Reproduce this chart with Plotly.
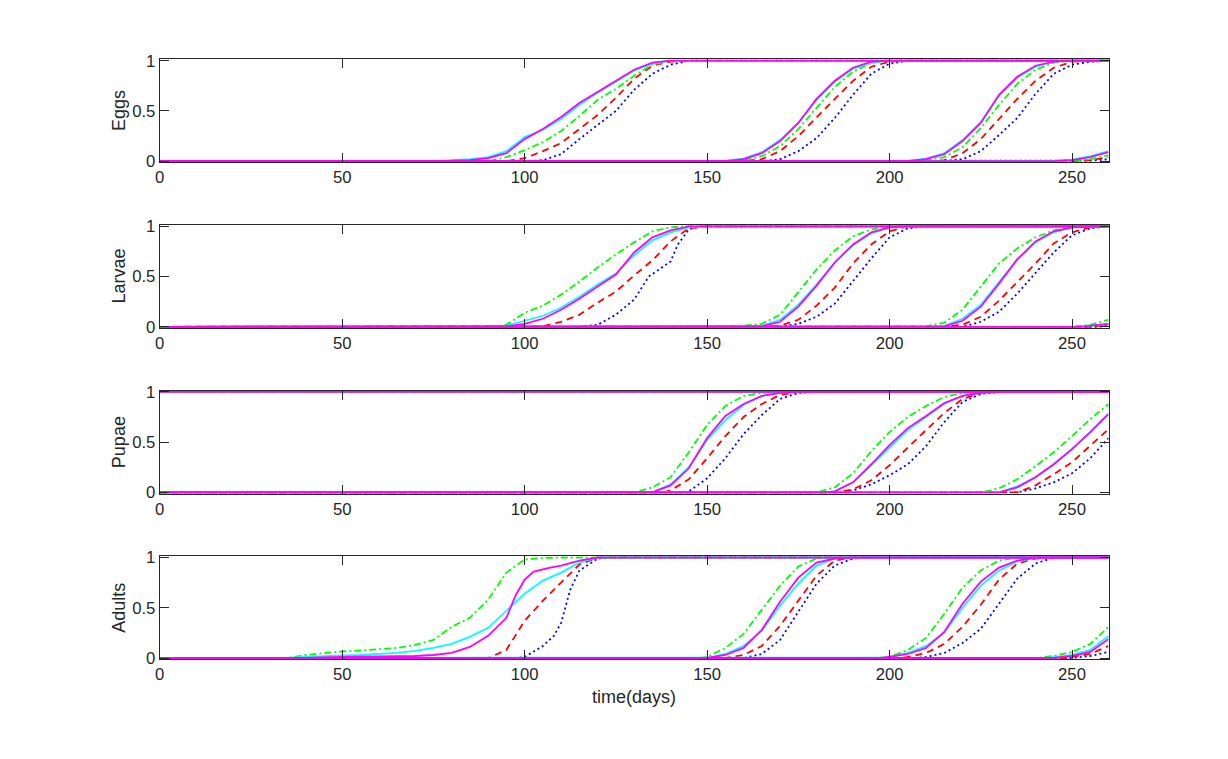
import plotly.graph_objects as go

# ---------------- data (day, fraction) ----------------
T_MAX = 260
x_ticks = [0, 50, 100, 150, 200, 250]
y_ticks = [0, 0.5, 1]
y_tick_text = ["0", "0.5", "1"]
stage_names = ["Eggs", "Larvae", "Pupae", "Adults"]
x_title = "time(days)"

eggs_blue = [
    [(100, 0), (105, 0.01), (110, 0.07), (115, 0.22), (120, 0.36), (125, 0.50), (130, 0.71), (135, 0.87), (140, 0.96), (145, 1)],
    [(165, 0), (170, 0.02), (175, 0.10), (180, 0.23), (185, 0.43), (190, 0.66), (195, 0.87), (200, 0.97), (205, 1)],
    [(215, 0), (220, 0.02), (225, 0.10), (230, 0.26), (235, 0.43), (240, 0.67), (245, 0.87), (250, 0.96), (255, 0.99), (260, 1)],
    [(250, 0), (255, 0.005), (260, 0.02)],
]
eggs_red = [
    [(95, 0), (100, 0.03), (105, 0.10), (110, 0.18), (115, 0.32), (120, 0.46), (125, 0.63), (130, 0.82), (135, 0.95), (140, 0.99), (145, 1)],
    [(160, 0), (165, 0.02), (170, 0.10), (175, 0.25), (180, 0.44), (185, 0.62), (190, 0.80), (195, 0.94), (200, 0.99), (205, 1)],
    [(210, 0), (215, 0.01), (220, 0.08), (225, 0.22), (230, 0.42), (235, 0.62), (240, 0.80), (245, 0.93), (250, 0.99), (255, 1)],
    [(250, 0), (255, 0.01), (260, 0.04)],
]
eggs_green = [
    [(90, 0), (95, 0.04), (100, 0.11), (105, 0.19), (110, 0.30), (115, 0.45), (120, 0.61), (125, 0.72), (130, 0.85), (135, 0.96), (140, 1)],
    [(155, 0), (160, 0.01), (165, 0.05), (170, 0.15), (175, 0.32), (180, 0.53), (185, 0.74), (190, 0.89), (195, 0.98), (200, 1)],
    [(205, 0), (210, 0.01), (215, 0.04), (220, 0.14), (225, 0.33), (230, 0.56), (235, 0.77), (240, 0.91), (245, 0.98), (250, 1)],
    [(250, 0), (255, 0.02), (260, 0.06)],
]
eggs_cyan = [
    [(75, 0), (80, 0.01), (85, 0.02), (90, 0.04), (95, 0.10), (100, 0.24), (105, 0.31), (110, 0.42), (115, 0.56), (120, 0.68), (125, 0.79), (130, 0.90), (135, 0.97), (140, 1)],
    [(152, 0), (155, 0.005), (160, 0.025), (165, 0.09), (170, 0.21), (175, 0.38), (180, 0.61), (185, 0.79), (190, 0.92), (195, 0.98), (200, 1)],
    [(202, 0), (205, 0.005), (210, 0.025), (215, 0.08), (220, 0.21), (225, 0.39), (230, 0.65), (235, 0.83), (240, 0.94), (245, 0.99), (250, 1)],
    [(243, 0), (250, 0.015), (255, 0.05), (260, 0.10)],
]
eggs_magenta = [
    [(75, 0), (80, 0.005), (85, 0.01), (90, 0.03), (95, 0.08), (100, 0.22), (105, 0.32), (110, 0.44), (115, 0.58), (120, 0.69), (125, 0.80), (130, 0.91), (135, 0.98), (140, 1)],
    [(155, 0), (160, 0.02), (165, 0.08), (170, 0.20), (175, 0.38), (180, 0.62), (185, 0.80), (190, 0.93), (195, 0.99), (200, 1)],
    [(205, 0), (210, 0.02), (215, 0.07), (220, 0.20), (225, 0.38), (230, 0.66), (235, 0.84), (240, 0.95), (245, 0.99), (250, 1)],
    [(245, 0), (250, 0.01), (255, 0.04), (260, 0.09)],
]

larvae_blue = [
    [(115, 0), (120, 0.02), (125, 0.12), (130, 0.27), (134, 0.50), (136, 0.55), (140, 0.65), (142, 0.82), (145, 0.97), (148, 1)],
    [(170, 0), (175, 0.03), (180, 0.10), (185, 0.23), (190, 0.46), (195, 0.68), (200, 0.89), (205, 0.98), (210, 1)],
    [(220, 0), (225, 0.05), (230, 0.15), (235, 0.33), (240, 0.54), (245, 0.74), (250, 0.91), (255, 0.98), (260, 1)],
    [(257, 0), (260, 0.01)],
]
larvae_red = [
    [(100, 0), (105, 0.005), (110, 0.05), (115, 0.12), (120, 0.24), (125, 0.35), (130, 0.51), (135, 0.66), (140, 0.85), (145, 0.98), (150, 1)],
    [(165, 0), (170, 0.01), (175, 0.07), (180, 0.21), (185, 0.39), (190, 0.63), (195, 0.82), (200, 0.95), (205, 1)],
    [(215, 0), (220, 0.02), (225, 0.10), (230, 0.26), (235, 0.44), (240, 0.63), (245, 0.83), (250, 0.94), (255, 0.99), (260, 1)],
    [(255, 0), (260, 0.02)],
]
larvae_green = [
    [(90, 0), (95, 0.02), (100, 0.14), (105, 0.21), (110, 0.32), (115, 0.45), (120, 0.59), (125, 0.72), (130, 0.84), (135, 0.95), (140, 0.99), (145, 1)],
    [(155, 0), (160, 0.01), (165, 0.03), (170, 0.12), (175, 0.34), (180, 0.57), (185, 0.76), (190, 0.90), (195, 0.97), (200, 1)],
    [(205, 0), (210, 0.005), (215, 0.04), (220, 0.17), (225, 0.40), (230, 0.63), (235, 0.78), (240, 0.89), (245, 0.96), (250, 0.99), (255, 1)],
    [(250, 0), (255, 0.02), (260, 0.07)],
]
larvae_cyan = [
    [(90, 0), (95, 0.01), (100, 0.06), (105, 0.11), (110, 0.19), (115, 0.30), (120, 0.42), (125, 0.53), (130, 0.71), (135, 0.86), (140, 0.94), (145, 0.99), (150, 1)],
    [(160, 0), (165, 0.01), (170, 0.07), (175, 0.22), (180, 0.42), (185, 0.64), (190, 0.81), (195, 0.93), (200, 0.99), (205, 1)],
    [(210, 0), (215, 0.01), (220, 0.08), (225, 0.22), (230, 0.44), (235, 0.67), (240, 0.84), (245, 0.94), (250, 0.99), (255, 1)],
    [(252, 0), (260, 0.03)],
]
larvae_magenta = [
    [(90, 0), (95, 0.005), (100, 0.03), (105, 0.08), (110, 0.17), (115, 0.28), (120, 0.40), (125, 0.52), (130, 0.74), (135, 0.89), (140, 0.96), (145, 1)],
    [(160, 0), (165, 0.005), (170, 0.05), (175, 0.20), (180, 0.41), (185, 0.64), (190, 0.82), (195, 0.94), (200, 0.99), (205, 1)],
    [(210, 0), (215, 0.005), (220, 0.06), (225, 0.20), (230, 0.43), (235, 0.67), (240, 0.85), (245, 0.95), (250, 0.99), (255, 1)],
    [(252, 0), (260, 0.03)],
]

pupae_blue = [
    [(0, 1), (260, 1)],
    [(143, 0), (145, 0.01), (150, 0.14), (155, 0.34), (160, 0.58), (165, 0.77), (170, 0.93), (175, 0.99), (180, 1)],
    [(185, 0), (190, 0.02), (195, 0.08), (200, 0.17), (205, 0.28), (210, 0.46), (215, 0.70), (220, 0.90), (225, 0.98), (230, 1)],
    [(235, 0), (240, 0.04), (245, 0.10), (250, 0.19), (255, 0.34), (260, 0.54)],
]
pupae_red = [
    [(0, 1), (260, 1)],
    [(138, 0), (140, 0.02), (145, 0.13), (150, 0.34), (155, 0.56), (160, 0.75), (165, 0.88), (170, 0.97), (175, 1)],
    [(185, 0), (190, 0.03), (195, 0.12), (200, 0.27), (205, 0.45), (210, 0.62), (215, 0.79), (220, 0.93), (225, 0.99), (230, 1)],
    [(235, 0), (240, 0.07), (245, 0.18), (250, 0.30), (255, 0.47), (260, 0.63)],
]
pupae_green = [
    [(0, 1), (260, 1)],
    [(130, 0), (135, 0.05), (140, 0.15), (145, 0.40), (150, 0.67), (155, 0.86), (160, 0.96), (165, 0.99), (170, 1)],
    [(180, 0), (185, 0.05), (190, 0.19), (195, 0.41), (200, 0.60), (205, 0.75), (210, 0.86), (215, 0.95), (220, 0.99), (225, 1)],
    [(225, 0), (230, 0.04), (235, 0.13), (240, 0.26), (245, 0.40), (250, 0.56), (255, 0.73), (260, 0.88)],
]
pupae_cyan = [
    [(0, 1), (260, 1)],
    [(135, 0), (140, 0.08), (145, 0.25), (150, 0.52), (155, 0.72), (160, 0.87), (165, 0.96), (170, 0.99), (175, 1)],
    [(182, 0), (185, 0.01), (190, 0.10), (195, 0.27), (200, 0.45), (205, 0.62), (210, 0.75), (215, 0.88), (220, 0.96), (225, 0.99), (230, 1)],
    [(230, 0), (235, 0.06), (240, 0.15), (245, 0.28), (250, 0.43), (255, 0.60), (260, 0.78)],
]
pupae_magenta = [
    [(0, 1), (260, 1)],
    [(135, 0), (140, 0.07), (145, 0.24), (150, 0.54), (155, 0.76), (160, 0.88), (165, 0.96), (170, 0.99), (175, 1)],
    [(182, 0), (185, 0.01), (190, 0.10), (195, 0.28), (200, 0.47), (205, 0.64), (210, 0.76), (215, 0.89), (220, 0.96), (225, 0.99), (230, 1)],
    [(230, 0), (235, 0.05), (240, 0.15), (245, 0.28), (250, 0.43), (255, 0.60), (260, 0.78)],
]

adults_blue = [
    [(98, 0), (100, 0.01), (105, 0.12), (108, 0.22), (110, 0.35), (112.5, 0.68), (115, 0.87), (120, 0.99), (125, 1)],
    [(160, 0), (165, 0.04), (170, 0.18), (175, 0.46), (180, 0.74), (185, 0.92), (190, 0.99), (195, 1)],
    [(207, 0), (210, 0.01), (215, 0.05), (220, 0.15), (225, 0.29), (230, 0.54), (235, 0.79), (240, 0.94), (245, 1)],
    [(250, 0), (255, 0.02), (260, 0.06)],
]
adults_red = [
    [(90, 0), (95, 0.08), (100, 0.37), (105, 0.57), (110, 0.75), (115, 0.93), (120, 1)],
    [(155, 0), (160, 0.03), (165, 0.12), (170, 0.32), (175, 0.57), (180, 0.82), (185, 0.97), (190, 1)],
    [(203, 0), (205, 0.01), (210, 0.05), (215, 0.14), (220, 0.31), (225, 0.53), (230, 0.78), (235, 0.94), (240, 0.99), (245, 1)],
    [(248, 0), (255, 0.04), (260, 0.12)],
]
adults_green = [
    [(35, 0), (40, 0.03), (45, 0.05), (50, 0.065), (55, 0.075), (60, 0.085), (65, 0.10), (70, 0.13), (75, 0.18), (80, 0.31), (85, 0.40), (90, 0.58), (95, 0.85), (100, 0.98), (105, 0.995), (110, 1)],
    [(148, 0), (150, 0.01), (155, 0.10), (160, 0.24), (165, 0.48), (170, 0.72), (175, 0.91), (180, 0.99), (185, 1)],
    [(195, 0), (200, 0.01), (205, 0.08), (210, 0.20), (215, 0.44), (220, 0.70), (225, 0.87), (230, 0.97), (235, 1)],
    [(240, 0), (245, 0.02), (250, 0.06), (255, 0.14), (260, 0.31)],
]
adults_cyan = [
    [(35, 0), (40, 0.01), (45, 0.02), (50, 0.025), (55, 0.03), (60, 0.04), (65, 0.05), (70, 0.07), (75, 0.10), (80, 0.14), (85, 0.21), (90, 0.30), (95, 0.47), (100, 0.64), (105, 0.77), (110, 0.85), (115, 0.95), (120, 1)],
    [(150, 0), (155, 0.04), (160, 0.12), (165, 0.27), (170, 0.52), (175, 0.74), (180, 0.92), (185, 0.99), (190, 1)],
    [(198, 0), (200, 0.005), (205, 0.05), (210, 0.12), (215, 0.25), (220, 0.50), (225, 0.72), (230, 0.87), (235, 0.96), (240, 1)],
    [(243, 0), (250, 0.03), (255, 0.08), (260, 0.22)],
]
adults_magenta = [
    [(40, 0), (50, 0.01), (60, 0.015), (70, 0.02), (75, 0.03), (80, 0.05), (85, 0.11), (90, 0.22), (95, 0.40), (97.5, 0.62), (100, 0.78), (102.5, 0.86), (107, 0.90), (110, 0.92), (115, 0.97), (120, 1)],
    [(150, 0), (155, 0.03), (160, 0.10), (165, 0.28), (170, 0.56), (175, 0.80), (180, 0.95), (185, 0.99), (190, 1)],
    [(198, 0), (205, 0.04), (210, 0.10), (215, 0.26), (220, 0.54), (225, 0.76), (230, 0.90), (235, 0.97), (240, 1)],
    [(245, 0), (250, 0.02), (255, 0.06), (260, 0.19)],
]

stage_data = [
    [eggs_blue, eggs_red, eggs_green, eggs_cyan, eggs_magenta],
    [larvae_blue, larvae_red, larvae_green, larvae_cyan, larvae_magenta],
    [pupae_blue, pupae_red, pupae_green, pupae_cyan, pupae_magenta],
    [adults_blue, adults_red, adults_green, adults_cyan, adults_magenta],
]

# ---------------- styling ----------------
series_styles = [
    dict(color="#0000FF", dash="2px,3px"),          # blue dotted
    dict(color="#FF0000", dash="7px,5px"),          # red dashed
    dict(color="#00FF00", dash="7px,3px,2px,3px"),  # green dash-dot
    dict(color="#00FFFF", dash="solid"),            # cyan solid
    dict(color="#FF00FF", dash="solid"),            # magenta solid
]
LINE_W = 1.8
AX_COLOR = "#262626"
FONT = "Liberation Sans, Arial, Helvetica, sans-serif"

W, H = 1228, 759
x_left_px, x_right_px = 159.7, 1108.5
top_px = [60.7, 226.3, 391.9, 557.5]
ax_h_px = 100.5
pad = 0.012

fig = go.Figure()
layout = dict(
    width=W, height=H, autosize=False,
    margin=dict(l=0, r=0, t=0, b=0, pad=0, autoexpand=False),
    paper_bgcolor="white", plot_bgcolor="white", showlegend=False,
    font=dict(family=FONT, color=AX_COLOR, size=17),
)
annotations = []

for k, (name, series) in enumerate(zip(stage_names, stage_data)):
    idx = "" if k == 0 else str(k + 1)
    xa, ya = "x" + idx, "y" + idx
    for style, gens in zip(series_styles, series):
        for gen in gens:
            xs = [p[0] for p in gen]
            ys = [p[1] for p in gen]
            if xs[0] > 0:
                xs.insert(0, 0)
                ys.insert(0, 0)
            if xs[-1] < T_MAX and ys[-1] >= 1:
                xs.append(T_MAX)
                ys.append(1)
            fig.add_trace(go.Scatter(
                x=xs, y=ys, mode="lines", xaxis=xa, yaxis=ya,
                line=dict(color=style["color"], width=LINE_W, dash=style["dash"]),
                hoverinfo="skip",
            ))
    top = top_px[k] - pad * ax_h_px
    bot = top_px[k] + ax_h_px + pad * ax_h_px
    common = dict(showline=True, linecolor=AX_COLOR, linewidth=1, mirror="ticks",
                  ticks="inside", ticklen=9, tickcolor=AX_COLOR, tickwidth=1,
                  showgrid=False, zeroline=False, automargin=False,
                  tickfont=dict(family=FONT, size=16.7, color=AX_COLOR))
    layout["xaxis" + idx] = dict(
        domain=[x_left_px / W, x_right_px / W], range=[0, T_MAX],
        tickvals=x_ticks, anchor=ya, **common)
    layout["yaxis" + idx] = dict(
        domain=[1 - bot / H, 1 - top / H], range=[-pad, 1 + pad],
        tickvals=y_ticks, ticktext=y_tick_text, anchor=xa, **common)
    annotations.append(dict(
        text=name, x=119 / W, y=1 - (top_px[k] + ax_h_px / 2) / H,
        xref="paper", yref="paper", showarrow=False, textangle=-90,
        xanchor="center", yanchor="middle",
        font=dict(family=FONT, size=18, color=AX_COLOR)))

annotations.append(dict(
    text=x_title, x=(x_left_px + x_right_px) / 2 / W, y=1 - 697 / H,
    xref="paper", yref="paper", showarrow=False,
    xanchor="center", yanchor="middle",
    font=dict(family=FONT, size=18, color=AX_COLOR)))
layout["annotations"] = annotations

fig.update_layout(**layout)
fig.write_html("out.html")
